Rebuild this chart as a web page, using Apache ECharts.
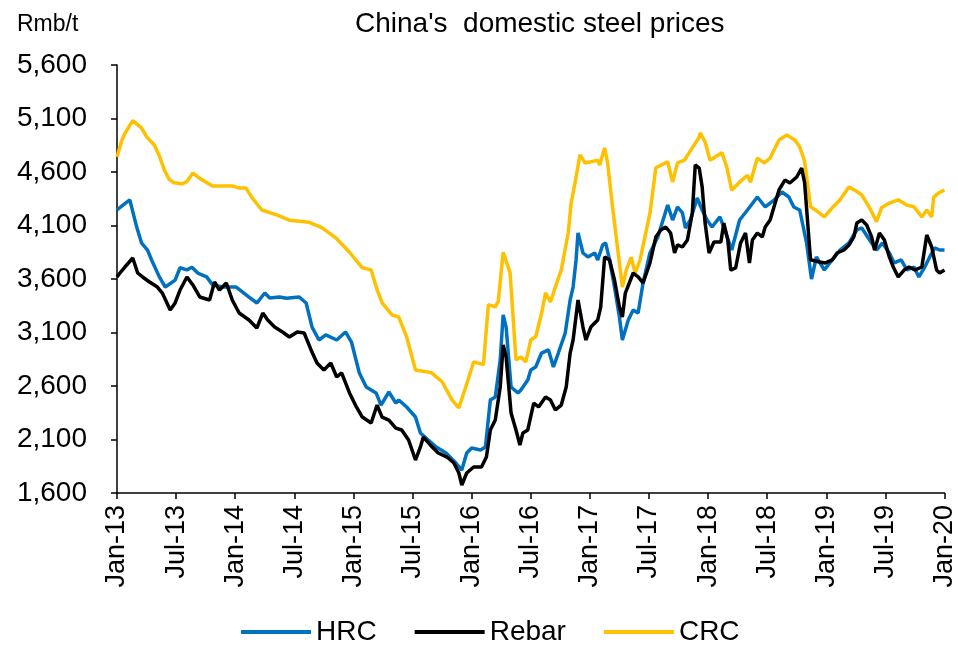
<!DOCTYPE html>
<html lang="en">
<head>
  <meta charset="UTF-8">
  <title>China's domestic steel prices</title>
  <script src="https://cdn.jsdelivr.net/npm/echarts@6/dist/echarts.min.js"></script>
  <style>
    html, body { margin: 0; padding: 0; background: #fff; }
    #chart { width: 958px; height: 655px; }
  </style>
</head>
<body>
  <div id="chart"></div>
  <script>
    // x = months since Jan-2013, y = Rmb/t
    const seriesNames = ['HRC', 'Rebar', 'CRC'];
    const monthLabels = ['Jan', 'Jul'];
    const yTicks = [1600, 2100, 2600, 3100, 3600, 4100, 4600, 5100, 5600];

    const hrc = [
      [0,4245],[0.6,4290],[1.3,4340],[1.5,4330],[2.0,4085],[2.5,3935],[3.1,3870],[3.5,3780],[4.3,3620],[4.9,3525],
      [5.9,3590],[6.4,3705],[7.1,3685],[7.6,3710],[8.2,3655],[9.1,3620],[9.7,3545],[10.7,3525],[12.1,3525],[13.4,3430],
      [14.2,3376],[15.0,3469],[15.5,3422],[16.5,3432],[17.2,3420],[18.5,3432],[19.2,3376],[19.8,3150],[20.5,3030],[21.2,3077],
      [22.3,3030],[23.2,3105],[23.8,3011],[24.6,2722],[25.3,2591],[26.3,2535],[26.8,2422],[27.6,2544],[28.3,2441],[28.6,2469],
      [29.4,2404],[30.3,2310],[30.8,2161],[31.6,2095],[32.4,2030],[33.4,1974],[34.4,1880],[35.0,1815],[35.5,1974],[36.0,2021],
      [36.9,2002],[37.4,2030],[37.9,2469],[38.4,2497],[38.9,2843],[39.2,3264],[39.5,3151],[40.0,2591],[40.7,2535],[41.0,2563],
      [41.7,2656],[42.0,2750],[42.5,2778],[43.1,2908],[43.8,2937],[44.3,2778],[44.8,2908],[45.5,3095],[46.0,3404],[46.3,3525],
      [46.6,3778],[46.8,4030],[47.3,3843],[47.8,3806],[48.5,3843],[48.8,3778],[49.3,3918],[49.6,3937],[50.0,3778],[50.5,3525],
      [51.0,3245],[51.3,3030],[51.9,3217],[52.4,3310],[52.9,3282],[53.4,3563],[54.1,3843],[54.9,3993],[55.9,4292],[56.4,4151],
      [56.9,4273],[57.4,4217],[57.7,4077],[58.2,4151],[58.9,4357],[59.4,4245],[59.9,4151],[60.4,4086],[61.2,4180],[61.7,4058],
      [62.4,3871],[63.2,4151],[64.0,4245],[65.0,4366],[65.8,4273],[66.7,4338],[67.5,4413],[68.2,4366],[68.7,4273],[69.3,4245],
      [70.0,3937],[70.5,3600],[71.0,3806],[71.8,3684],[72.6,3778],[73.4,3871],[74.3,3937],[75.1,4058],[75.6,4077],[76.4,3965],
      [77.1,3871],[77.7,3937],[78.4,3843],[78.9,3750],[79.6,3778],[80.2,3684],[80.9,3712],[81.4,3619],[82.0,3712],[82.5,3806],
      [83.0,3890],[83.5,3871],[84,3871]
    ];

    const rebar = [
      [0,3619],[0.3,3656],[0.8,3712],[1.6,3796],[2.1,3656],[2.6,3619],[3.3,3572],[4.1,3525],[4.6,3469],[5.4,3310],
      [5.9,3376],[6.4,3497],[7.1,3619],[7.7,3544],[8.4,3432],[9.4,3404],[9.9,3572],[10.4,3497],[11.1,3563],[11.7,3404],
      [12.4,3282],[13.4,3217],[14.2,3142],[14.8,3282],[15.3,3217],[16.0,3151],[16.8,3105],[17.5,3058],[18.3,3105],[19.0,3095],
      [19.7,2937],[20.3,2815],[21.0,2750],[21.7,2815],[22.3,2684],[22.8,2722],[23.6,2535],[24.3,2404],[24.9,2310],[25.8,2254],
      [26.4,2422],[26.9,2310],[27.6,2282],[28.3,2207],[28.9,2189],[29.6,2095],[30.3,1908],[30.8,2030],[31.1,2123],[31.8,2049],
      [32.6,1974],[33.5,1936],[34.2,1880],[34.7,1787],[35.0,1675],[35.5,1787],[36.2,1843],[37.0,1843],[37.5,1936],[37.9,2189],
      [38.4,2282],[38.9,2591],[39.2,2983],[39.5,2871],[40.0,2348],[40.5,2189],[40.9,2049],[41.2,2161],[41.7,2189],[42.3,2441],
      [42.8,2404],[43.5,2497],[44.0,2469],[44.5,2376],[45.1,2422],[45.6,2591],[46.0,2908],[46.3,3030],[46.8,3404],[47.3,3151],
      [47.6,3030],[48.1,3151],[48.8,3217],[49.1,3338],[49.5,3806],[50.0,3778],[50.5,3591],[51.0,3338],[51.3,3245],[51.6,3469],
      [52.4,3656],[52.9,3619],[53.4,3563],[54.1,3750],[54.7,3993],[55.2,4058],[55.7,4086],[56.2,4030],[56.6,3843],[56.9,3918],
      [57.4,3899],[57.9,3965],[58.4,4217],[58.7,4666],[59.1,4637],[59.4,4460],[59.7,4123],[60.1,3843],[60.6,3946],[61.3,3946],
      [61.6,4123],[62.0,3965],[62.3,3684],[62.8,3703],[63.3,3937],[63.8,4030],[64.2,3750],[64.5,3965],[65.0,4030],[65.5,3993],
      [65.8,4086],[66.3,4151],[67.2,4432],[67.8,4525],[68.3,4497],[69.0,4553],[69.5,4637],[69.8,4500],[70.4,3780],[71.3,3759],
      [71.9,3750],[72.6,3778],[73.1,3843],[73.8,3871],[74.3,3918],[74.8,3993],[75.1,4123],[75.6,4151],[76.1,4105],[76.6,3993],
      [76.9,3871],[77.4,4030],[77.9,3965],[78.4,3806],[78.8,3712],[79.3,3619],[79.9,3684],[80.4,3712],[81.0,3684],[81.7,3712],
      [82.2,4011],[82.7,3899],[83.2,3684],[83.5,3656],[84,3684]
    ];

    const crc = [
      [0,4740],[0.5,4900],[0.8,4960],[1.6,5080],[2.5,5010],[3.0,4930],[3.3,4900],[3.8,4850],[4.3,4750],[4.8,4620],
      [5.3,4530],[5.8,4500],[6.6,4490],[7.1,4510],[7.7,4590],[8.4,4540],[9.7,4470],[11.7,4470],[12.4,4450],[13.1,4450],
      [13.7,4360],[14.7,4245],[16.2,4200],[17.5,4150],[19.5,4130],[20.8,4080],[22.2,3985],[23.6,3850],[24.9,3705],[25.8,3685],
      [26.4,3500],[26.9,3380],[27.9,3265],[28.6,3245],[29.4,3060],[30.3,2750],[31.9,2725],[33.0,2640],[34.0,2470],[34.7,2395],
      [35.4,2590],[36.2,2825],[37.2,2800],[37.7,3360],[38.4,3340],[38.7,3390],[39.2,3850],[39.9,3660],[40.5,2845],[41.0,2870],
      [41.5,2825],[42.0,3030],[42.5,3060],[43.1,3280],[43.5,3470],[44.0,3385],[44.5,3525],[45.1,3685],[45.8,4030],[46.1,4310],
      [46.5,4500],[47.0,4760],[47.5,4685],[48.1,4695],[48.8,4710],[49.0,4665],[49.5,4825],[49.8,4685],[50.3,4275],[50.8,3900],
      [51.3,3525],[51.7,3685],[52.2,3805],[52.6,3655],[53.1,3780],[54.1,4215],[54.7,4640],[55.9,4695],[56.4,4505],[56.9,4685],
      [57.6,4710],[58.4,4825],[59.1,4925],[59.2,4965],[59.7,4880],[60.2,4710],[61.4,4780],[61.9,4645],[62.4,4430],[63.2,4505],
      [64.0,4570],[64.3,4505],[65.0,4730],[65.7,4685],[66.3,4730],[67.2,4900],[68.0,4945],[68.8,4900],[69.3,4835],[69.8,4700],
      [70.4,4275],[70.9,4245],[71.8,4180],[72.6,4265],[73.4,4340],[74.3,4460],[74.9,4430],[75.6,4385],[76.4,4265],[77.1,4135],
      [77.6,4265],[78.4,4310],[79.3,4340],[80.2,4290],[80.9,4275],[81.7,4180],[82.2,4245],[82.7,4180],[82.9,4365],[83.5,4410],
      [84,4430]
    ];

    const colors = { HRC: '#0070C0', Rebar: '#000000', CRC: '#FFC000' };
    const FONT = "'Liberation Sans', Arial, sans-serif";

    function xLabel(v) {
      const yr = 13 + Math.floor(v / 12);
      return monthLabels[(v % 12) / 6] + '-' + yr;
    }

    function makeLine(name, data, z) {
      return {
        name: name,
        type: 'line',
        data: data,
        z: z,
        showSymbol: false,
        symbol: 'none',
        lineStyle: { width: 3.5, color: colors[name] },
        itemStyle: { color: colors[name] }
      };
    }

    const chart = echarts.init(document.getElementById('chart'));
    chart.setOption({
      animation: false,
      title: [
        { text: "China's  domestic steel prices", left: 350, top: 5,
          textStyle: { fontFamily: FONT, fontSize: 28, fontWeight: 'normal', color: '#000' } },
        { text: 'Rmb/t', left: 12, top: 8,
          textStyle: { fontFamily: FONT, fontSize: 23, fontWeight: 'normal', color: '#000' } }
      ],
      legend: {
        data: seriesNames,
        left: 236, bottom: 4,
        icon: 'rect', itemWidth: 70, itemHeight: 4, itemGap: 38,
        textStyle: { fontFamily: FONT, fontSize: 28, color: '#000' }
      },
      grid: { left: 117, right: 10, top: 65, bottom: 162, containLabel: false },
      xAxis: {
        type: 'value', min: 0, max: 84, interval: 6,
        splitLine: { show: false },
        axisLine: { lineStyle: { color: '#000', width: 1.5 } },
        axisTick: { show: true, length: 6, lineStyle: { color: '#000', width: 1.5 } },
        axisLabel: { rotate: 90, margin: 12, formatter: xLabel,
          fontFamily: FONT, fontSize: 27, color: '#000' }
      },
      yAxis: {
        type: 'value', min: yTicks[0], max: yTicks[yTicks.length - 1], interval: 500,
        splitLine: { show: false },
        axisLine: { show: true, lineStyle: { color: '#000', width: 1.5 } },
        axisTick: { show: true, length: 6, lineStyle: { color: '#000', width: 1.5 } },
        axisLabel: { margin: 30, fontFamily: FONT, fontSize: 28, color: '#000',
          formatter: v => v.toLocaleString('en-US') }
      },
      series: [
        makeLine('HRC', hrc, 2),
        makeLine('Rebar', rebar, 4),
        makeLine('CRC', crc, 3)
      ]
    });
  </script>
</body>
</html>
